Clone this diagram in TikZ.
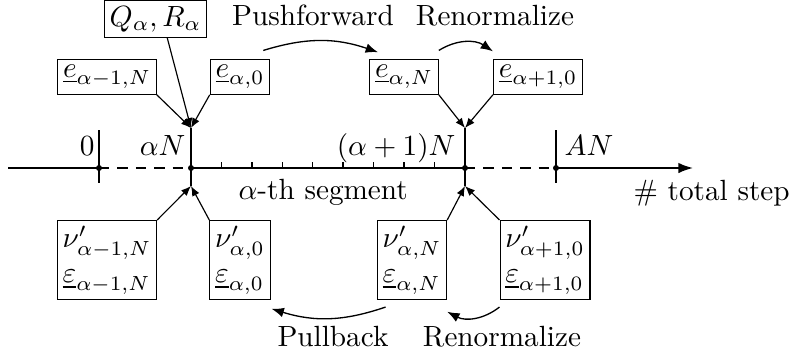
\documentclass[tikz,border=0pt]{standalone}
\usetikzlibrary{arrows.meta}
\begin{document}
\begin{tikzpicture}[x=0.342pt,y=0.342pt,
  box/.style={draw,line width=0.4pt,inner sep=1.8pt},
  lab/.style={inner sep=0pt},
  conn/.style={line width=0.4pt,-{Latex[length=3.4pt,width=2.7pt]}},
  bconn/.style={line width=0.45pt,-{Latex[length=4.2pt,width=3.3pt]}},
  ax/.style={line width=0.6pt},
  dsh/.style={line width=0.6pt,dash pattern=on 3.5pt off 2.8pt}]
\useasboundingbox (0,0) rectangle (796,-358);
% axis points
\coordinate (start) at (8,-168);
\coordinate (p0) at (99,-168);
\coordinate (pa) at (191,-168);
\coordinate (pb) at (465,-168);
\coordinate (pA) at (556,-168);
\coordinate (end) at (693,-168);
\coordinate (p0t) at (99,-130);
\coordinate (p0b) at (99,-183);
\coordinate (pAt) at (556,-130);
\coordinate (pAb) at (556,-183);
\coordinate (at) at (191,-128);
\coordinate (ab) at (191,-186);
\coordinate (bt) at (465,-128);
\coordinate (bb) at (465,-186);
% axis
\draw[ax] (start) -- (p0);
\draw[dsh] (p0) -- (pa);
\draw[ax] (pa) -- (pb);
\draw[dsh] (pb) -- (pA);
\draw[ax,-{Latex[length=5pt,width=3.6pt]}] (pA) -- (end);
\foreach \k in {1,...,8} \draw[line width=0.5pt] ({191+\k*30.44},-168) -- ++(0,6);
\draw[ax] (p0t) -- (p0b);
\draw[ax] (pAt) -- (pAb);
\draw[ax] (at) -- (ab);
\draw[ax] (bt) -- (bb);
\foreach \p in {p0,pa,pb,pA} \fill (\p) circle[radius=3];
% axis labels
\node[lab,anchor=base east] (l0) at (95,-155) {$0$};
\node[lab,anchor=base east] (la) at (186,-155) {$\alpha N$};
\node[lab,anchor=base east] (lb) at (456,-155) {$(\alpha+1)N$};
\node[lab,anchor=base west] (lA) at (564,-155) {$AN$};
\node[lab,anchor=base west] (seg) at (238,-199) {$\alpha$-th segment};
\node[lab,anchor=base west] (tot) at (633,-200) {\# total step};
% top boxes
\node[box] (Q) at (155.5,-19) {$Q_\alpha, R_\alpha$};
\node[box] (e1) at (107,-77) {$\underline{e}_{\alpha-1,N}$};
\node[box] (e2) at (240,-77) {$\underline{e}_{\alpha,0}$};
\node[box] (e3) at (404,-77) {$\underline{e}_{\alpha,N}$};
\node[box] (e4) at (538,-77) {$\underline{e}_{\alpha+1,0}$};
% bottom boxes
\node[box,align=left] (n1) at (107,-260) {$\nu'_{\alpha-1,N}$\\$\underline{\varepsilon}_{\alpha-1,N}$};
\node[box,align=left] (n2) at (240,-260) {$\nu'_{\alpha,0}$\\$\underline{\varepsilon}_{\alpha,0}$};
\node[box,align=left] (n3) at (412,-260) {$\nu'_{\alpha,N}$\\$\underline{\varepsilon}_{\alpha,N}$};
\node[box,align=left] (n4) at (545,-260) {$\nu'_{\alpha+1,0}$\\$\underline{\varepsilon}_{\alpha+1,0}$};
% labels
\node[lab,anchor=base] (push) at (313,-25) {Pushforward};
\node[lab,anchor=base] (ren1) at (495,-25) {Renormalize};
\node[lab,anchor=base] (pull) at (333,-346) {Pullback};
\node[lab,anchor=base] (ren2) at (502,-346) {Renormalize};
% connectors
\draw[conn] (e1.south east) -- (at);
\draw[conn] (e2.south west) -- (at);
\draw[conn] ([xshift=4pt]Q.south) -- (at);
\draw[conn] (e3.south east) -- (bt);
\draw[conn] (e4.south west) -- (bt);
\draw[conn] (n1.north east) -- (ab);
\draw[conn] (n2.north west) -- (ab);
\draw[conn] (n3.north east) -- (bb);
\draw[conn] (n4.north west) -- (bb);
% curved arrows
\draw[bconn] ([xshift=-2.4pt,yshift=3pt]e2.north east) to[bend left=18] ([xshift=3pt,yshift=2.4pt]e3.north west);
\draw[bconn] ([yshift=3pt]e3.north east) to[bend left=33] ([yshift=2.7pt]e4.north west);
\draw[bconn] ([xshift=3pt,yshift=-2.4pt]n3.south west) to[bend left=18] ([xshift=0.3pt,yshift=-3pt]n2.south east);
\draw[bconn] ([yshift=-2.4pt]n4.south west) to[bend left=33] ([yshift=-4pt]n3.south east);
\end{tikzpicture}
\end{document}
